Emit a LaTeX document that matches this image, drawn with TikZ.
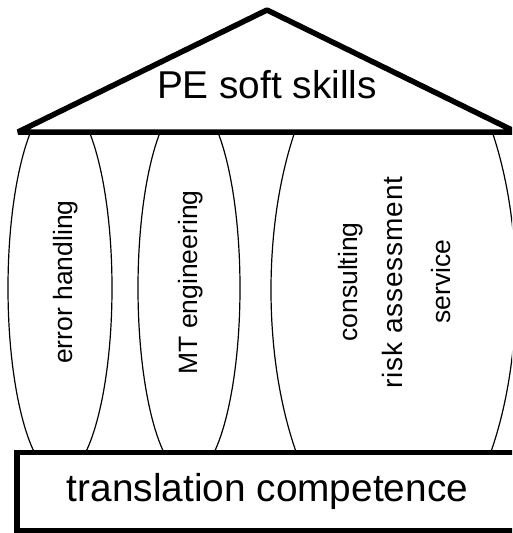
\documentclass[tikz,border=0pt]{standalone}
\usepackage{fontspec}
\setmainfont{Liberation Sans}
\begin{document}
\begin{tikzpicture}[x=1pt,y=-1pt,
  pillar/.style={line width=1.2pt},
  bigtext/.style={font=\fontsize{38.8}{46}\selectfont},
  smalltext/.style={font=\fontsize{26.5}{32}\selectfont, rotate=90, anchor=base, inner sep=0pt},
  thick line/.style={line width=5.5pt}]
\useasboundingbox (0,0) rectangle (512,533);
\clip (0,0) rectangle (512,533);
% pillars
\begin{scope}
  \clip (0,132) rectangle (512,451);
  \draw[pillar] (60,288) ellipse [x radius=52, y radius=189];
  \draw[pillar] (189,288) ellipse [x radius=51, y radius=189];
  \draw[pillar] (393.5,290) ellipse [x radius=122.5, y radius=267];
\end{scope}
% roof
\coordinate (rl) at (18,132);
\coordinate (ra) at (267,10);
\coordinate (rr) at (516,132);
\draw[thick line, line join=bevel, fill=white] (rl) -- (ra) -- (rr) -- cycle;
\node[bigtext, anchor=base] (roof) at (267,98) {PE soft skills};
% base
\node[draw, thick line, fill=white, minimum width=501pt, minimum height=78pt, bigtext] (tc) at (267.5,491.5) {translation competence};
% pillar labels
\node[smalltext] (eh) at (72,282) {error handling};
\node[smalltext] (mt) at (197,282.5) {MT engineering};
\node[smalltext] (cons) at (357,282) {consulting};
\node[smalltext, font=\fontsize{28}{32}\selectfont\addfontfeature{LetterSpace=3}] (risk) at (402,282.5) {risk assessment};
\node[smalltext] (serv) at (450,281.5) {service};
\end{tikzpicture}
\end{document}
